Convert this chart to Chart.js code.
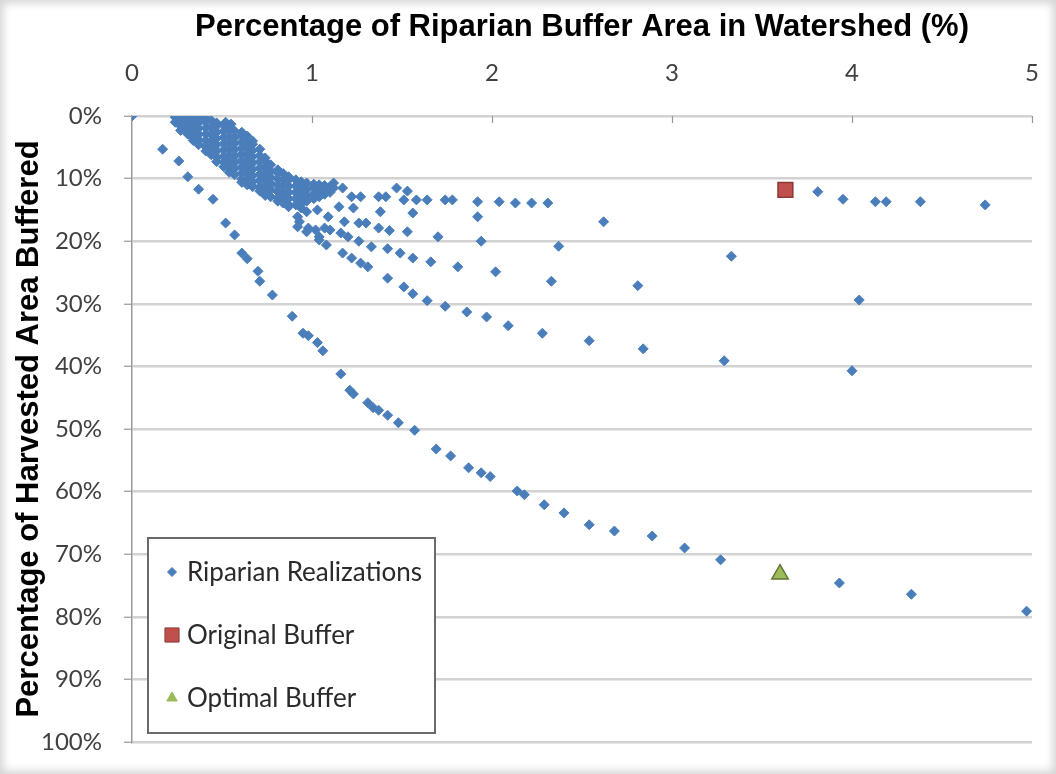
<!DOCTYPE html>
<html>
<head>
<meta charset="utf-8">
<script src="https://cdn.jsdelivr.net/npm/chart.js@4/dist/chart.umd.min.js"></script>
<style>
  html, body { margin: 0; padding: 0; background: #fff; }
  #wrap { position: relative; width: 1056px; height: 774px; }
  #frame { position: absolute; inset: 0; pointer-events: none;
           box-shadow: inset 0 0 9px 3px #d4d4d4; }
</style>
</head>
<body>
<div id="wrap">
  <canvas id="bufferChart" width="1056" height="774"></canvas>
  <div id="frame"></div>
</div>
<script>
// x = % of riparian buffer area in watershed, y = % of harvested area buffered

// the dense band of realizations near the origin
const denseBand = [
  [0.24, 0.2], [0.24, 1.0],
  [0.27, 0.2], [0.27, 0.7], [0.27, 1.6], [0.27, 2.3],
  [0.31, 0.2], [0.31, 1.1], [0.31, 2.0], [0.31, 2.9],
  [0.34, 0.2], [0.34, 0.7], [0.34, 1.6], [0.34, 2.5], [0.34, 3.4], [0.34, 3.9],
  [0.37, 0.2], [0.37, 1.1], [0.37, 2.0], [0.37, 2.9], [0.37, 3.8], [0.37, 4.6],
  [0.41, 0.4], [0.41, 0.9], [0.41, 1.9], [0.41, 2.9], [0.41, 3.9], [0.41, 4.9], [0.41, 5.6],
  [0.44, 0.7], [0.44, 1.8], [0.44, 2.9], [0.44, 4.0], [0.44, 5.1], [0.44, 6.2],
  [0.47, 1.1], [0.47, 1.6], [0.47, 2.6], [0.47, 3.6], [0.47, 4.6], [0.47, 5.6], [0.47, 6.6], [0.47, 7.3],
  [0.51, 1.4], [0.51, 2.4], [0.51, 3.4], [0.51, 4.4], [0.51, 5.4], [0.51, 6.4], [0.51, 7.3], [0.51, 8.1],
  [0.52, 1.0], [0.55, 1.3],
  [0.54, 1.8], [0.54, 2.3], [0.54, 3.3], [0.54, 4.3], [0.54, 5.3], [0.54, 6.3], [0.54, 7.3], [0.54, 8.3], [0.54, 9.0],
  [0.57, 2.4], [0.57, 3.4], [0.57, 4.4], [0.57, 5.4], [0.57, 6.4], [0.57, 7.4], [0.57, 8.4], [0.57, 9.4],
  [0.61, 2.6], [0.61, 3.1], [0.61, 4.1], [0.61, 5.1], [0.61, 6.1], [0.61, 7.1], [0.61, 8.1], [0.61, 9.1], [0.61, 10.1], [0.61, 10.6],
  [0.64, 3.2], [0.64, 4.2], [0.64, 5.2], [0.64, 6.2], [0.64, 7.2], [0.64, 8.2], [0.64, 9.2], [0.64, 10.2], [0.64, 11.0],
  [0.67, 4.0], [0.67, 4.5], [0.67, 5.5], [0.67, 6.5], [0.67, 7.5], [0.67, 8.5], [0.67, 9.5], [0.67, 10.5], [0.67, 11.3],
  [0.71, 5.3], [0.71, 6.3], [0.71, 7.3], [0.71, 8.3], [0.71, 9.3], [0.71, 10.3], [0.71, 11.3], [0.71, 12.0],
  [0.74, 6.7], [0.74, 7.2], [0.74, 8.2], [0.74, 9.2], [0.74, 10.2], [0.74, 11.2], [0.74, 12.2], [0.74, 12.7],
  [0.77, 7.8], [0.77, 8.8], [0.77, 9.8], [0.77, 10.8], [0.77, 11.8], [0.77, 12.9],
  [0.81, 8.6], [0.81, 9.1], [0.81, 10.1], [0.81, 11.1], [0.81, 12.1], [0.81, 13.1], [0.81, 13.6],
  [0.84, 9.2], [0.84, 10.2], [0.84, 11.2], [0.84, 12.2], [0.84, 13.1], [0.84, 13.9],
  [0.87, 9.7], [0.87, 10.2], [0.87, 11.2], [0.87, 12.2], [0.87, 13.2], [0.87, 14.2], [0.87, 14.5],
  [0.91, 10.2], [0.91, 11.2], [0.91, 12.2], [0.91, 13.2], [0.91, 14.2],
  [0.94, 10.5], [0.94, 11.0], [0.94, 12.0], [0.94, 13.0], [0.94, 14.0], [0.94, 14.7],
  [0.97, 10.7], [0.97, 11.7], [0.97, 12.7], [0.97, 13.6],
  [1.01, 10.9], [1.01, 11.4], [1.01, 12.4], [1.01, 13.2],
  [1.04, 11.0], [1.04, 12.0], [1.04, 12.9],
  [1.07, 11.1], [1.07, 11.6], [1.07, 12.5],
  [1.10, 11.3], [1.10, 12.2]
];

// branches fanning out of the band
const branchPoints = [
  [1.12, 10.7], [1.12, 11.5], [1.17, 11.5], [1.22, 12.9], [1.27, 12.9], [1.37, 12.9], [1.41, 12.9],
  [1.47, 11.5], [1.53, 12.0], [1.51, 13.4], [1.58, 13.4], [1.64, 13.4], [1.74, 13.4], [1.78, 13.4],
  [1.92, 13.7], [2.04, 13.7], [2.13, 13.9], [2.22, 13.9], [2.31, 13.9],
  [0.97, 15.3], [1.03, 15.0], [1.15, 14.5], [1.23, 14.7], [1.38, 15.3], [1.56, 15.5], [1.92, 16.1],
  [0.92, 16.1], [0.93, 16.9], [1.09, 16.1], [0.98, 17.9], [1.02, 18.2], [1.07, 17.9],
  [1.18, 16.9], [1.26, 17.1], [1.30, 17.1], [1.37, 17.9], [1.43, 18.3], [1.53, 18.5],
  [1.70, 19.3], [1.94, 20.0], [2.37, 20.8], [2.62, 16.9],
  [1.04, 19.3], [1.10, 18.2], [1.16, 18.7], [1.20, 19.3], [1.26, 20.0], [1.33, 20.9], [1.42, 21.2],
  [1.49, 21.9], [1.56, 22.7], [1.66, 23.3], [1.81, 24.1], [2.02, 24.9], [2.33, 26.4], [2.81, 27.1],
  [3.33, 22.4], [4.04, 29.4],
  [0.92, 17.7], [0.97, 18.5], [1.04, 19.8], [1.08, 20.6], [1.17, 21.9], [1.22, 22.7], [1.27, 23.5],
  [1.31, 24.1], [1.42, 25.9], [1.51, 27.3], [1.56, 28.4], [1.64, 29.5], [1.74, 30.4], [1.86, 31.3],
  [1.97, 32.1], [2.09, 33.5], [2.28, 34.7], [2.54, 35.9], [2.84, 37.2], [3.29, 39.1], [4.00, 40.7],
  [3.81, 12.1], [3.95, 13.3], [4.13, 13.7], [4.19, 13.7], [4.38, 13.7], [4.74, 14.2]
];

// the outermost curve
const outerCurve = [
  [0.00, 0.0], [0.17, 5.3], [0.26, 7.2], [0.31, 9.7], [0.37, 11.7], [0.45, 13.3], [0.52, 17.1],
  [0.57, 19.0], [0.61, 21.9], [0.64, 22.8], [0.70, 24.8], [0.71, 26.4], [0.78, 28.6], [0.89, 32.0],
  [0.95, 34.7], [0.98, 35.1], [1.03, 36.2], [1.06, 37.5], [1.16, 41.2], [1.21, 43.8], [1.23, 44.4],
  [1.31, 45.8], [1.34, 46.6], [1.37, 47.0], [1.42, 47.8], [1.48, 49.0], [1.57, 50.2], [1.69, 53.2],
  [1.77, 54.3], [1.87, 56.2], [1.94, 57.0], [1.99, 57.6], [2.14, 59.9], [2.18, 60.5], [2.29, 62.1],
  [2.40, 63.4], [2.54, 65.3], [2.68, 66.3], [2.89, 67.1], [3.07, 69.0], [3.27, 70.9], [3.93, 74.6],
  [4.33, 76.4], [4.97, 79.1]
];

const originalBuffer = [[3.63, 11.8]];
const optimalBuffer = [[3.60, 73.2]];

const xTicks = [0, 1, 2, 3, 4, 5];
const yTicks = [0, 10, 20, 30, 40, 50, 60, 70, 80, 90, 100];

const toXY = pts => pts.map(p => ({ x: p[0], y: p[1] }));

const blue = "#4a7ebb";
const red = "#c0504d";
const green = "#9bbb59";

// legend box inside the plot, bottom left
const boxLegend = {
  id: "boxLegend",
  afterDatasetsDraw(chart) {
    const ctx = chart.ctx;
    const area = chart.chartArea;
    const left = area.left + 16, bottom = area.bottom - 9;
    const w = 287, h = 195, top = bottom - h;
    ctx.save();
    ctx.fillStyle = "#fff";
    ctx.fillRect(left, top, w, h);
    ctx.strokeStyle = "#6a6a6a";
    ctx.lineWidth = 2;
    ctx.strokeRect(left, top, w, h);
    const items = [
      { text: "Riparian Realizations", style: "rectRot", r: 4.5, fill: blue, line: blue },
      { text: "Original Buffer", style: "rect", r: 10, fill: red, line: "#8b3a38" },
      { text: "Optimal Buffer", style: "triangle", r: 6, fill: green, line: green }
    ];
    ctx.font = "26px Lato";
    ctx.textBaseline = "middle";
    items.forEach((it, i) => {
      const y = top + 34 + i * 63;
      ctx.fillStyle = it.fill;
      ctx.strokeStyle = it.line;
      ctx.lineWidth = 1;
      Chart.helpers.drawPoint(ctx, { pointStyle: it.style, radius: it.r, borderWidth: 1 }, left + 24, y);
      ctx.fillStyle = "#2a2a2a";
      ctx.fillText(it.text, left + 39, y + 1);
    });
    ctx.restore();
  },
  afterDraw(chart) {
    // small inward tick marks on the top axis
    const ctx = chart.ctx;
    const xs = chart.scales.x;
    const top = chart.chartArea.top;
    ctx.save();
    ctx.strokeStyle = "#999";
    ctx.lineWidth = 1.2;
    xTicks.slice(1).forEach(v => {
      const px = Math.round(xs.getPixelForValue(v)) + 0.5;
      ctx.beginPath();
      ctx.moveTo(px, top);
      ctx.lineTo(px, top + 7);
      ctx.stroke();
    });
    ctx.restore();
  }
};

new Chart(document.getElementById("bufferChart").getContext("2d"), {
  type: "scatter",
  data: {
    datasets: [
      {
        label: "Original Buffer",
        data: toXY(originalBuffer),
        pointStyle: "rect",
        pointRadius: 10.5,
        backgroundColor: red,
        borderColor: "#8b3a38",
        borderWidth: 1.5,
        order: 0
      },
      {
        label: "Optimal Buffer",
        data: toXY(optimalBuffer),
        pointStyle: "triangle",
        pointRadius: 9.5,
        backgroundColor: green,
        borderColor: "#5f7530",
        borderWidth: 1.5,
        order: 0
      },
      {
        label: "Riparian Realizations",
        data: toXY(denseBand.concat(branchPoints, outerCurve)),
        pointStyle: "rectRot",
        pointRadius: 5,
        backgroundColor: blue,
        borderColor: blue,
        borderWidth: 1,
        order: 1
      }
    ]
  },
  options: {
    responsive: false,
    animation: false,
    events: [],
    layout: { padding: { left: 10, top: 0, right: 24, bottom: 32 } },
    plugins: {
      legend: { display: false },
      tooltip: { enabled: false }
    },
    scales: {
      x: {
        type: "linear",
        position: "top",
        min: 0,
        max: 5,
        afterFit: s => { s.height = 116; s.paddingLeft = 0; s.paddingRight = 0; },
        afterBuildTicks: s => { s.ticks = xTicks.map(v => ({ value: v })); },
        grid: { display: false },
        border: { display: false },
        ticks: {
          padding: 20,
          color: "#404040",
          font: { family: "Lato", size: 24 }
        },
        title: {
          display: true,
          text: "Percentage of Riparian Buffer Area in Watershed (%)",
          color: "#000",
          font: { family: "Liberation Sans", size: 31, weight: "bold" },
          padding: { top: 9, bottom: 0 }
        }
      },
      y: {
        type: "linear",
        reverse: true,
        min: 0,
        max: 100,
        afterFit: s => { s.width = 122; s.paddingTop = 0; s.paddingBottom = 0; },
        afterBuildTicks: s => { s.ticks = yTicks.map(v => ({ value: v })); },
        grid: {
          color: "#d2d2d2",
          lineWidth: 2.5,
          tickColor: "#999",
          tickWidth: 1.2,
          tickLength: 8
        },
        border: { display: true, color: "#999", width: 1.5 },
        ticks: {
          padding: 22,
          color: "#404040",
          font: { family: "Lato", size: 24 },
          callback: v => v + "%"
        },
        title: {
          display: true,
          text: "Percentage of Harvested Area Buffered",
          color: "#000",
          font: { family: "Liberation Sans", size: 31, weight: "bold" },
          padding: { top: 1, bottom: 0 }
        }
      }
    }
  },
  plugins: [boxLegend]
});
</script>
</body>
</html>
